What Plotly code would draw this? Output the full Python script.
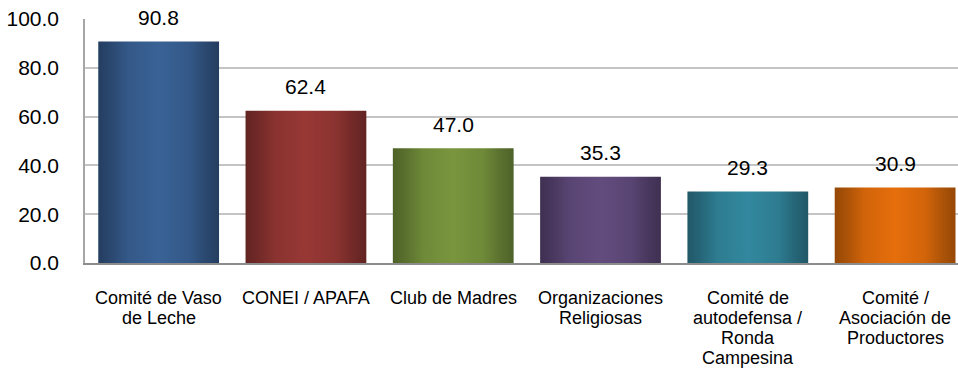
import plotly.graph_objects as go

# Organización social: participación (%)
categorias = [
    "Comité de Vaso<br>de Leche",
    "CONEI / APAFA",
    "Club de Madres",
    "Organizaciones<br>Religiosas",
    "Comité de<br>autodefensa /<br>Ronda<br>Campesina",
    "Comité /<br>Asociación de<br>Productores",
]
valores = [90.8, 62.4, 47.0, 35.3, 29.3, 30.9]
y_ticks = [0, 20, 40, 60, 80, 100]

# colour pairs per bar: (centre, edge) for a horizontal shaded fill
centro = ["#3a6296", "#983835", "#79963e", "#624c7e", "#32889e", "#e66e0c"]
borde = ["#243e60", "#622422", "#4e6228", "#3f3052", "#215868", "#964806"]

ANCHO = 0.82
FUENTE = "Liberation Sans, Arial"

fig = go.Figure()


def mezcla(a, b, f):
    ca = [int(a[i:i + 2], 16) for i in (1, 3, 5)]
    cb = [int(b[i:i + 2], 16) for i in (1, 3, 5)]
    return "rgb(%d,%d,%d)" % tuple(round(ca[i] + (cb[i] - ca[i]) * f) for i in range(3))


# each bar is a filled rectangle on the category axis with a horizontal gradient
for i, (v, c, e) in enumerate(zip(valores, centro, borde)):
    x0, x1 = i - ANCHO / 2, i + ANCHO / 2
    escala = [
        [0.0, e],
        [0.10, mezcla(c, e, 0.75)],
        [0.25, mezcla(c, e, 0.25)],
        [0.50, c],
        [0.75, mezcla(c, e, 0.25)],
        [0.90, mezcla(c, e, 0.75)],
        [1.0, e],
    ]
    fig.add_trace(go.Scatter(
        x=[x0, x0, x1, x1, x0],
        y=[0, v, v, 0, 0],
        mode="none",
        fill="toself",
        fillgradient=dict(type="horizontal", colorscale=escala, start=x0, stop=x1),
        hoverinfo="skip", showlegend=False,
    ))

# value labels above each bar
for i, v in enumerate(valores):
    fig.add_annotation(
        x=i, y=v, xref="x", yref="y",
        text="%.1f" % v, showarrow=False,
        yanchor="middle", yshift=24,
        font=dict(family=FUENTE, size=21, color="#000000"),
    )

# category labels, one line at a time for compact line spacing
for i, lab in enumerate(categorias):
    for j, linea in enumerate(lab.split("<br>")):
        fig.add_annotation(
            x=i, y=0, xref="x", yref="y",
            text=linea, showarrow=False,
            yanchor="middle", yshift=-35 - 20 * j,
            font=dict(family=FUENTE, size=18, color="#000000"),
        )

fig.update_layout(
    width=958, height=369,
    paper_bgcolor="white", plot_bgcolor="white",
    margin=dict(l=85, r=0, t=19, b=106),
    xaxis=dict(
        range=[-0.5, 5.427],
        showticklabels=False, showgrid=False, zeroline=False,
        showline=True, linecolor="#8c8c8c", linewidth=2,
        fixedrange=True,
    ),
    yaxis=dict(
        range=[0, 100],
        tickvals=y_ticks,
        ticktext=["%.1f" % v for v in y_ticks],
        tickfont=dict(family=FUENTE, size=21, color="#000000"),
        ticklabelstandoff=20,
        showgrid=True, gridcolor="#c4c4c4", gridwidth=1.5,
        zeroline=False,
        showline=True, linecolor="#a6a6a6", linewidth=1.5,
        fixedrange=True,
    ),
)

fig.write_html("out.html")
